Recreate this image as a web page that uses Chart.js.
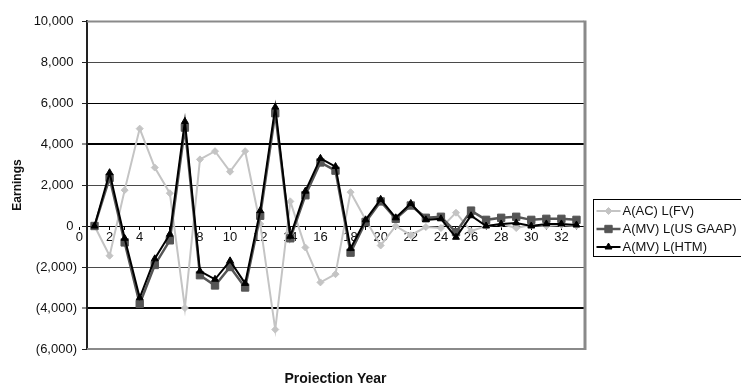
<!DOCTYPE html>
<html lang="en">
<head>
<meta charset="UTF-8">
<title>Earnings by Projection Year</title>
<script src="https://cdn.jsdelivr.net/npm/chart.js"></script>
<style>
  body { margin: 0; background: #fff; }
  #wrap { width: 741px; height: 383px; }
</style>
</head>
<body>
<div id="wrap"><canvas id="earningsChart" width="741" height="383"></canvas></div>
<script>
  // projection years and the three earnings series
  const years = [1, 2, 3, 4, 5, 6, 7, 8, 9, 10, 11, 12, 13, 14, 15, 16, 17,
                 18, 19, 20, 21, 22, 23, 24, 25, 26, 27, 28, 29, 30, 31, 32, 33];
  const acFv = [0, -1450, 1750, 4750, 2850, 1600, -4000, 3250, 3650, 2650, 3650, 100, -5050,
                1200, -1050, -2750, -2350, 1650, 300, -950, 0, -450, -50, -100, 650, -250,
                0, 100, -100, 50, 0, 50, 0];
  const mvGaap = [0, 2350, -800, -3800, -1900, -700, 4800, -2400, -2900, -2000, -3000, 500, 5500,
                  -600, 1500, 3100, 2700, -1300, 200, 1200, 350, 1000, 400, 450, -300, 750,
                  300, 400, 450, 300, 350, 350, 300];
  const mvHtm = [0, 2600, -600, -3500, -1600, -400, 5100, -2200, -2600, -1700, -2800, 750, 5800,
                 -500, 1700, 3300, 2900, -1100, 300, 1300, 400, 1100, 300, 350, -550, 500,
                 0, 100, 150, 0, 100, 100, 50];
  const seriesNames = ['A(AC) L(FV)', 'A(MV) L(US GAAP)', 'A(MV) L(HTM)'];
  const yTicks = [-6000, -4000, -2000, 0, 2000, 4000, 6000, 8000, 10000];
  const xTicks = [0, 1, 2, 3, 4, 5, 6, 7, 8, 9, 10, 11, 12, 13, 14, 15, 16, 17,
                  18, 19, 20, 21, 22, 23, 24, 25, 26, 27, 28, 29, 30, 31, 32, 33];

  Chart.defaults.font.family = '"Liberation Sans", Arial, sans-serif';
  Chart.defaults.color = '#111';

  function toPoints(vals) {
    return years.map((x, i) => ({ x: x, y: vals[i] }));
  }

  // excel style number format: 2,000 / (2,000)
  function fmtEarn(v) {
    if (v < 0) return '(' + Math.abs(v).toLocaleString('en-US') + ')';
    return v.toLocaleString('en-US') + ' ';
  }

  // grey frame round the plot area (top, right, bottom)
  const framePlugin = {
    id: 'plotFrame',
    beforeDatasetsDraw(chart) {
      const { ctx, chartArea: a } = chart;
      ctx.save();
      ctx.strokeStyle = '#8a8a8a';
      ctx.lineWidth = 2;
      ctx.beginPath();
      ctx.moveTo(a.left, a.top + 0.5);
      ctx.lineTo(a.right, a.top + 0.5);
      ctx.moveTo(a.left, a.bottom);
      ctx.lineTo(a.right, a.bottom);
      ctx.stroke();
      ctx.lineWidth = 3;
      ctx.beginPath();
      ctx.moveTo(a.right + 1, a.top - 0.5);
      ctx.lineTo(a.right + 1, a.bottom + 1);
      ctx.stroke();
      ctx.restore();
    }
  };

  // boxed legend on the right, like the excel one
  const boxLegend = {
    id: 'boxLegend',
    afterDraw(chart) {
      const ctx = chart.ctx;
      const a = chart.chartArea;
      const bx = a.right + 9.5, by = 199.5;
      ctx.save();
      ctx.strokeStyle = '#000';
      ctx.lineWidth = 1;
      ctx.strokeRect(bx, by, 170, 57);
      ctx.font = '13px "Liberation Sans", Arial, sans-serif';
      ctx.textBaseline = 'middle';
      chart.data.datasets.forEach((ds, i) => {
        const y = by + 11.5 + i * 18;
        ctx.strokeStyle = ds.borderColor;
        ctx.fillStyle = ds.backgroundColor;
        ctx.lineWidth = ds.borderWidth;
        ctx.beginPath();
        ctx.moveTo(bx + 3, y);
        ctx.lineTo(bx + 27, y);
        ctx.stroke();
        ctx.lineWidth = 1;
        Chart.helpers.drawPoint(ctx, { pointStyle: ds.pointStyle, radius: ds.pointRadius, rotation: 0, borderWidth: 1 }, bx + 15, y);
        ctx.fillStyle = '#111';
        ctx.fillText(ds.label, bx + 29, y + 0.5);
      });
      ctx.restore();
    }
  };

  const chart = new Chart(document.getElementById('earningsChart'), {
    type: 'line',
    data: {
      datasets: [
        {
          label: seriesNames[0], data: toPoints(acFv), xAxisID: 'x', yAxisID: 'y',
          borderColor: '#c4c4c4', backgroundColor: '#c4c4c4', borderWidth: 2,
          pointStyle: 'rectRot', pointRadius: 3.5, pointBorderWidth: 1, order: 3
        },
        {
          label: seriesNames[1], data: toPoints(mvGaap), xAxisID: 'x', yAxisID: 'y',
          borderColor: '#555555', backgroundColor: '#555555', borderWidth: 2.5,
          pointStyle: 'rect', pointRadius: 5.2, pointBorderWidth: 1, order: 2
        },
        {
          label: seriesNames[2], data: toPoints(mvHtm), xAxisID: 'x', yAxisID: 'y',
          borderColor: '#000000', backgroundColor: '#000000', borderWidth: 2,
          pointStyle: 'triangle', pointRadius: 4, pointBorderWidth: 1, order: 1
        }
      ]
    },
    options: {
      responsive: false,
      animation: false,
      devicePixelRatio: 1,
      layout: { padding: { top: 21, right: 157, bottom: 0, left: 0 } },
      plugins: {
        legend: { display: false },
        tooltip: { enabled: false }
      },
      scales: {
        x: {
          type: 'linear',
          position: { y: 0 },
          min: 0.5,
          max: 33.5,
          afterBuildTicks: s => { s.ticks = xTicks.map(v => ({ value: v })); },
          ticks: {
            autoSkip: false, maxRotation: 0, padding: 1,
            font: { size: 13 },
            callback: v => (v % 2 === 0 ? String(v) : '')
          },
          grid: { drawOnChartArea: false, tickLength: 3, color: '#000' },
          border: { color: '#000', width: 1 }
        },
        x2: {
          type: 'linear',
          position: 'bottom',
          ticks: { display: false },
          grid: { display: false },
          border: { display: false },
          title: {
            display: true, text: 'Projection Year',
            font: { size: 14, weight: 'bold', lineHeight: 1 },
            padding: { top: 15, bottom: -3 }
          }
        },
        y: {
          min: -6000,
          max: 10000,
          afterBuildTicks: s => { s.ticks = yTicks.map(v => ({ value: v })); },
          afterFit: s => { s.width = 87; },
          ticks: { padding: 5, font: { size: 13 }, callback: v => fmtEarn(v) },
          grid: {
            color: c => {
              const v = c.tick.value;
              if (v === 10000 || v === -6000) return 'rgba(0,0,0,0)';
              if (v === 4000 || v === -4000 || v === 6000 || v === 0) return '#000';
              return '#4a4a4a';
            },
            lineWidth: c => (Math.abs(c.tick.value) === 4000 ? 2 : 1),
            tickColor: '#222',
            tickWidth: 1,
            tickLength: 5
          },
          border: { color: '#222', width: 2 },
          title: {
            display: true, text: 'Earnings',
            font: { size: 12, weight: 'bold' },
            padding: { top: 10, bottom: 0 }
          }
        }
      }
    },
    plugins: [framePlugin, boxLegend]
  });
</script>
</body>
</html>
